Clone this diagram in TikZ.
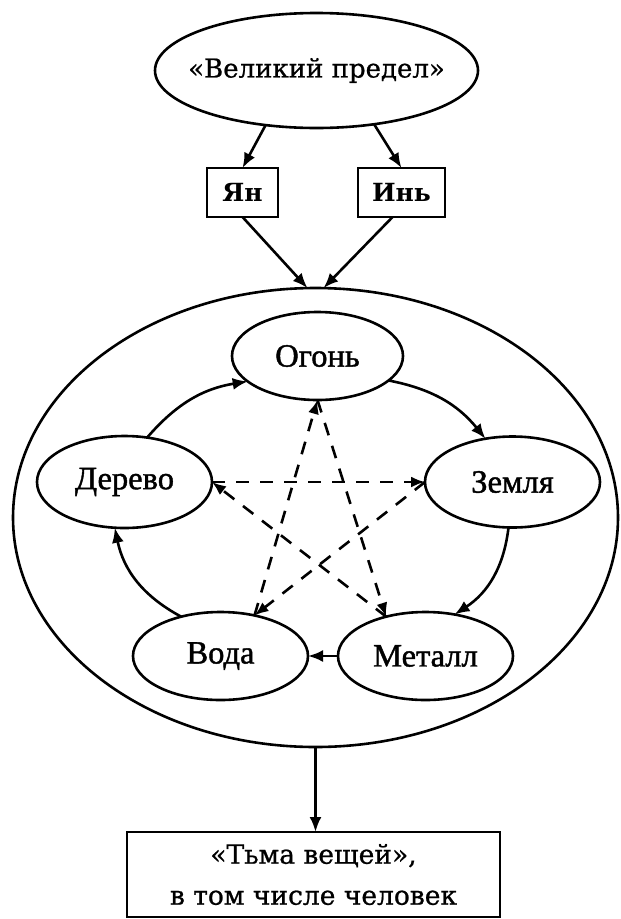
\documentclass[tikz,border=0pt]{standalone}
\usepackage{fontspec}
\setmainfont{Liberation Serif}[FakeBold=1.2]
\newfontfamily\elemfont{Liberation Serif}[FakeBold=1.3]
\newfontfamily\dvs{DejaVu Serif}[FakeBold=0.8]
\newfontfamily\dvsb{DejaVu Serif Bold}
\usetikzlibrary{shapes.geometric,arrows.meta}
\begin{document}
\begin{tikzpicture}[x=1pt,y=1pt,line width=2.6pt,
  elem/.style={draw, ellipse, inner sep=0pt, outer sep=0pt, minimum width=175pt, minimum height=88pt, font=\elemfont\fontsize{32.5}{38}\selectfont},
  yybox/.style={draw, rectangle, inner sep=0pt, outer sep=0pt, minimum height=49pt, font=\dvsb\fontsize{25}{30}\selectfont},
  arr/.style={-{Latex[length=15pt,width=12pt]}},
  darr/.style={dash pattern=on 13pt off 11pt, -{Latex[length=14pt,width=11pt]}}]
\useasboundingbox (0,0) rectangle (621,-919);

\node[elem, minimum width=323pt, minimum height=115pt, font=\dvs\fontsize{26}{30}\selectfont] (top) at (316.5,-70.5) {\makebox[0pt]{«Великий предел»}};
\node[yybox, minimum width=71pt] (yang) at (242.5,-192.5) {Ян};
\node[yybox, minimum width=87pt] (yin) at (401.5,-192.5) {Инь};

\node[draw, ellipse, inner sep=0pt, outer sep=0pt, minimum width=605pt, minimum height=459pt] (big) at (315.5,-517.5) {};

\node[elem, minimum width=171pt] (ogon) at (317.5,-356) {Огонь};
\node[elem, minimum height=92pt] (derevo) at (124.5,-482) {Дерево};
\node[elem, minimum height=91pt] (zemlya) at (512.5,-482) {Земля};
\node[elem] (voda) at (220.5,-656) {Вода};
\node[elem] (metall) at (425.5,-656) {Металл};

\node[draw, rectangle, inner sep=0pt, outer sep=0pt, minimum width=373pt, minimum height=85pt, align=center, font=\dvs\fontsize{26.5}{41}\selectfont] (things) at (313.5,-874.5) {«Тьма вещей»,\\в том числе человек};

\draw[arr] (top.227) -- (yang.north);
\draw[arr] (top.-43) -- (yin.north);
\draw[arr] (yang.south) -- (big.92);
\draw[arr] (yin.-110) -- (big.88);

\draw[arr] (derevo.63) to[bend left=20] (ogon.200);
\draw[arr] (ogon.-19) to[bend left=20] (zemlya.122);
\draw[arr] (zemlya.265) to[bend left=25] (metall.55);
\draw[arr] (metall.west) -- (voda.east);
\draw[arr] (voda.135) to[bend left=25] (derevo.258);

\draw[darr] (derevo.east) -- (zemlya.west);
\draw[darr] (zemlya.west) -- (voda.50);
\draw[darr] (voda.50) -- (ogon.south);
\draw[darr] (ogon.south) -- (metall.135);
\draw[darr] (metall.135) -- (derevo.east);

\draw[arr] (big.south) -- (big.south |- things.north);
\end{tikzpicture}
\end{document}
